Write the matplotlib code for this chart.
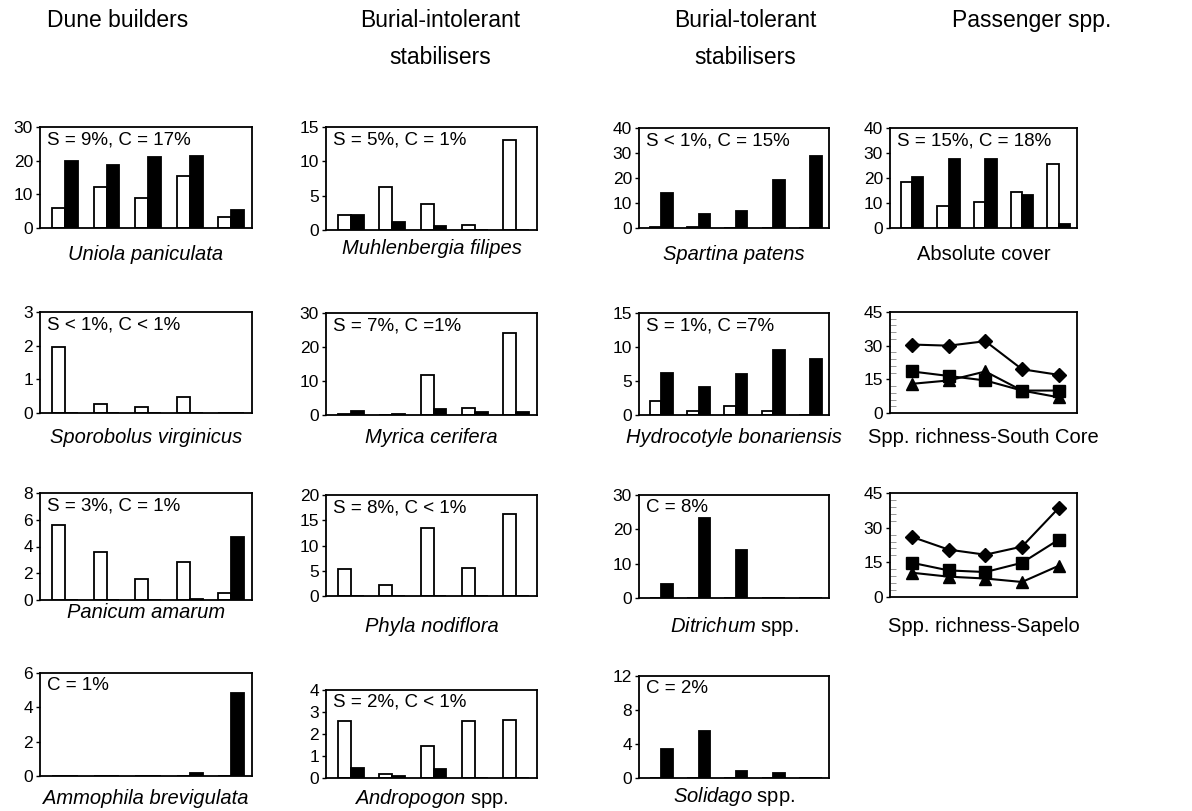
import matplotlib
matplotlib.use("Agg")
import matplotlib.pyplot as plt
import numpy as np
from matplotlib.ticker import MultipleLocator

plt.rcParams['font.family'] = ['Liberation Sans', 'DejaVu Sans']
plt.rcParams['mathtext.fontset'] = 'custom'
plt.rcParams['mathtext.rm'] = 'Liberation Sans'
plt.rcParams['mathtext.it'] = 'Liberation Sans:italic'

W, H = 1192, 811

# ---------------- data ----------------
groups = [1, 2, 3, 4, 5]

uniola_w = [5.8, 12.3, 9.0, 15.3, 3.3]
uniola_b = [20.0, 18.7, 21.0, 21.5, 5.3]
sporobolus_w = [1.95, 0.28, 0.18, 0.47, 0.0]
sporobolus_b = [0.0, 0.0, 0.0, 0.0, 0.0]
panicum_w = [5.6, 3.6, 1.55, 2.85, 0.55]
panicum_b = [0.0, 0.0, 0.0, 0.1, 4.7]
ammophila_w = [0.0, 0.0, 0.0, 0.0, 0.0]
ammophila_b = [0.0, 0.0, 0.0, 0.2, 4.85]

muhlenbergia_w = [2.2, 6.2, 3.8, 0.8, 13.1]
muhlenbergia_b = [2.2, 1.1, 0.6, 0.0, 0.0]
myrica_w = [0.4, 0.0, 11.8, 2.2, 24.0]
myrica_b = [1.3, 0.4, 1.8, 0.8, 0.8]
phyla_w = [5.3, 2.2, 13.4, 5.6, 16.2]
phyla_b = [0.0, 0.0, 0.0, 0.0, 0.0]
andropogon_w = [2.6, 0.2, 1.45, 2.6, 2.65]
andropogon_b = [0.45, 0.08, 0.4, 0.0, 0.0]

spartina_w = [0.5, 0.5, 0.0, 0.0, 0.0]
spartina_b = [14.0, 5.8, 7.0, 19.2, 28.8]
hydrocotyle_w = [2.0, 0.6, 1.3, 0.6, 0.0]
hydrocotyle_b = [6.2, 4.1, 6.0, 9.5, 8.3]
ditrichum_w = [0.0, 0.0, 0.0, 0.0, 0.0]
ditrichum_b = [4.2, 23.2, 13.9, 0.0, 0.0]
solidago_w = [0.0, 0.0, 0.0, 0.0, 0.0]
solidago_b = [3.4, 5.5, 0.8, 0.6, 0.0]

abscover_w = [18.3, 8.7, 10.5, 14.5, 25.5]
abscover_b = [20.6, 27.5, 27.5, 13.3, 1.8]

southcore_diamond = [30.5, 30.0, 32.0, 19.5, 17.0]
southcore_square = [18.5, 16.5, 14.5, 10.0, 10.0]
southcore_triangle = [13.0, 14.5, 18.5, 10.0, 7.0]
sapelo_diamond = [26.0, 20.5, 18.3, 21.8, 38.5]
sapelo_square = [14.8, 11.5, 10.8, 14.8, 24.8]
sapelo_triangle = [10.5, 8.8, 8.0, 6.5, 13.5]

col_titles = ["Dune builders", "Burial-intolerant\nstabilisers",
              "Burial-tolerant\nstabilisers", "Passenger spp."]

# ---------------- layout helpers ----------------
fig = plt.figure(figsize=(W / 100, H / 100), dpi=100)

cols = {1: (40, 252), 2: (326, 537), 3: (639, 829), 4: (890, 1077)}


def axes_px(col, top, bottom):
    l, r = cols[col]
    return fig.add_axes([l / W, 1 - bottom / H, (r - l) / W, (bottom - top) / H])


def style(ax, ymax, step):
    ax.set_ylim(0, ymax)
    ax.set_yticks(np.arange(0, ymax + 0.001, step))
    ax.set_xticks([])
    for s in ax.spines.values():
        s.set_linewidth(1.3)
        s.set_color('black')
    ax.tick_params(axis='y', direction='out', length=3, width=1, labelsize=12.5, pad=2)


def bar_panel(col, top, bottom, w, b, ymax, step, note, label, label_y, label_is_math=False):
    ax = axes_px(col, top, bottom)
    x = np.arange(len(groups))
    bw = 0.31
    ax.bar(x - bw / 2, w, bw, color='white', edgecolor='black', linewidth=1.3)
    ax.bar(x + bw / 2, b, bw, color='black', edgecolor='black', linewidth=1.3)
    ax.set_xlim(-0.6, 4.5)
    style(ax, ymax, step)
    if note:
        ax.text(0.035, 0.96, note, transform=ax.transAxes, ha='left', va='top', fontsize=13.5)
    l, r = cols[col]
    fig.text((l + r) / 2 / W, 1 - label_y / H, label, ha='center', va='center', fontsize=14.5,
             style='normal' if label_is_math else 'italic')
    return ax


def line_panel(col, top, bottom, d, s, t, label, label_y):
    ax = axes_px(col, top, bottom)
    x = np.arange(len(groups))
    kw = dict(color='black', linewidth=1.5)
    ax.plot(x, d, marker='D', markersize=7, **kw)
    ax.plot(x, s, marker='s', markersize=8, **kw)
    ax.plot(x, t, marker='^', markersize=8, **kw)
    ax.set_xlim(-0.6, 4.5)
    style(ax, 45, 15)
    ax.yaxis.set_minor_locator(MultipleLocator(3))
    ax.tick_params(axis='y', which='minor', direction='in', length=4, color='#888888')
    l, r = cols[col]
    fig.text((l + r) / 2 / W, 1 - label_y / H, label, ha='center', va='center', fontsize=14.5)
    return ax


# column titles
title_x = [118, 440, 745, 1032]
for tx, tt in zip(title_x, col_titles):
    fig.text(tx / W, 1 - 9 / H, tt, ha='center', va='top', fontsize=16.5, linespacing=1.8)

# column 1
bar_panel(1, 127, 228, uniola_w, uniola_b, 30, 10, "S = 9%, C = 17%", "Uniola paniculata", 255)
bar_panel(1, 312, 413, sporobolus_w, sporobolus_b, 3, 1, "S < 1%, C < 1%", "Sporobolus virginicus", 437)
bar_panel(1, 493, 600, panicum_w, panicum_b, 8, 2, "S = 3%, C = 1%", "Panicum amarum", 612)
bar_panel(1, 673, 776, ammophila_w, ammophila_b, 6, 2, "C = 1%", "Ammophila brevigulata", 798)

# column 2
bar_panel(2, 127, 230, muhlenbergia_w, muhlenbergia_b, 15, 5, "S = 5%, C = 1%", "Muhlenbergia filipes", 249)
bar_panel(2, 313, 415, myrica_w, myrica_b, 30, 10, "S = 7%, C =1%", "Myrica cerifera", 437)
bar_panel(2, 495, 596, phyla_w, phyla_b, 20, 5, "S = 8%, C < 1%", "Phyla nodiflora", 627)
bar_panel(2, 690, 778, andropogon_w, andropogon_b, 4, 1, "S = 2%, C < 1%", r"$\it{Andropogon}$ spp.", 798, True)

# column 3
bar_panel(3, 128, 228, spartina_w, spartina_b, 40, 10, "S < 1%, C = 15%", "Spartina patens", 255)
bar_panel(3, 313, 415, hydrocotyle_w, hydrocotyle_b, 15, 5, "S = 1%, C =7%", "Hydrocotyle bonariensis", 437)
bar_panel(3, 495, 598, ditrichum_w, ditrichum_b, 30, 10, "C = 8%", r"$\it{Ditrichum}$ spp.", 627, True)
bar_panel(3, 676, 778, solidago_w, solidago_b, 12, 4, "C = 2%", r"$\it{Solidago}$ spp.", 796, True)

# column 4
bar_panel(4, 128, 228, abscover_w, abscover_b, 40, 10, "S = 15%, C = 18%", "Absolute cover", 255, True)
line_panel(4, 312, 413, southcore_diamond, southcore_square, southcore_triangle,
           "Spp. richness-South Core", 437)
line_panel(4, 493, 597, sapelo_diamond, sapelo_square, sapelo_triangle,
           "Spp. richness-Sapelo", 627)

fig.savefig("out.png", dpi=100)
